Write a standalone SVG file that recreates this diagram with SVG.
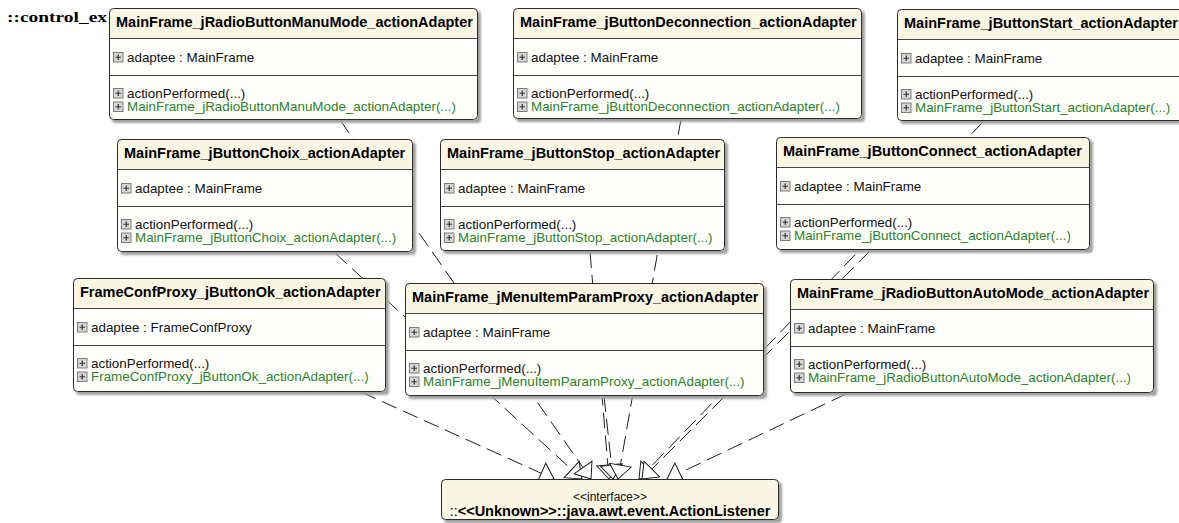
<svg xmlns="http://www.w3.org/2000/svg" xmlns:xlink="http://www.w3.org/1999/xlink" width="1179" height="523" viewBox="0 0 1179 523">
  <style>
    .shd { fill: #a0a0a0; filter: url(#soft); }
    .bg { fill: #fffffb; }
    .hd { fill: #faf6e4; }
    .bd { fill: none; stroke: #2b2b2b; stroke-width: 1; }
    .dv { stroke: #444; stroke-width: 1; }
    .t { font-family: "Liberation Sans", Arial, sans-serif; font-weight: bold; font-size: 14.5px; fill: #000; }
    .m { font-family: "Liberation Sans", Arial, sans-serif; font-size: 13.4px; fill: #111; }
    .g { fill: #2a842a; }
    .pkg { font-family: "Liberation Serif", "Times New Roman", serif; font-weight: bold; font-size: 15.5px; fill: #000; }
    .rl { fill: none; stroke: #1e1e1e; stroke-width: 1; stroke-dasharray: 16 7; marker-end: url(#realize); }
  </style>
  <defs>
    <filter id="soft" x="-5%" y="-5%" width="110%" height="110%">
      <feGaussianBlur stdDeviation="1.2"/>
    </filter>
    <marker id="realize" viewBox="-15 -12 16 24" refX="0" refY="0" markerWidth="16" markerHeight="24" markerUnits="userSpaceOnUse" orient="auto">
      <path d="M0,0 L-14,-11 L-14,11 Z" fill="#fff" stroke="#1e1e1e" stroke-width="1" stroke-dasharray="none"/>
    </marker>
    <g id="plus">
      <rect x="0.5" y="0.5" width="9.5" height="9.5" fill="#d6d6d6" stroke="#7c7c7c"/>
      <path d="M2.5,5.25 H8 M5.25,2.5 V8" stroke="#333" stroke-width="1.2"/>
    </g>
  </defs>

  <rect width="1179" height="523" fill="#fff"/>

  <text class="pkg" x="7" y="22" textLength="100" lengthAdjust="spacingAndGlyphs">::control_ex</text>

  <!-- realization links, drawn under the classes -->
  <g id="connectors">
    <path class="rl" d="M361,392 L554,479"/>
    <path class="rl" d="M335,253 L582,479"/>
    <path class="rl" d="M340,120 L591,479"/>
    <path class="rl" d="M590,252 L609,479"/>
    <path class="rl" d="M604,396 L613,479"/>
    <path class="rl" d="M681,119 L618,479"/>
    <path class="rl" d="M983,122 L639,479"/>
    <path class="rl" d="M870,251 L642,479"/>
    <path class="rl" d="M846,394 L667,479"/>
  </g>

  <g id="n-radioManuMode" transform="translate(109,8)">
    <rect class="shd" x="3" y="3" width="369" height="112" rx="4"/>
    <rect class="bg" width="369" height="112" rx="4"/>
    <path class="hd" d="M0,30 V4 Q0,0 4,0 H365 Q369,0 369,4 V30 Z"/>
    <line class="dv" x1="0" y1="30.5" x2="369" y2="30.5"/>
    <line class="dv" x1="0" y1="67.5" x2="369" y2="67.5"/>
    <text class="t" x="7" y="19">MainFrame_jRadioButtonManuMode_actionAdapter</text>
    <use xlink:href="#plus" x="4" y="44"/>
    <text class="m" x="18" y="53.5">adaptee : MainFrame</text>
    <use xlink:href="#plus" x="4" y="80"/>
    <text class="m" x="18" y="89.5">actionPerformed(...)</text>
    <use xlink:href="#plus" x="4" y="93.5"/>
    <text class="m g" x="18" y="103">MainFrame_jRadioButtonManuMode_actionAdapter(...)</text>
    <rect class="bd" x="0.5" y="0.5" width="368" height="111" rx="4"/>
  </g>

  <g id="n-buttonDeconnection" transform="translate(513,8)">
    <rect class="shd" x="3" y="3" width="349" height="111" rx="4"/>
    <rect class="bg" width="349" height="111" rx="4"/>
    <path class="hd" d="M0,30 V4 Q0,0 4,0 H345 Q349,0 349,4 V30 Z"/>
    <line class="dv" x1="0" y1="30.5" x2="349" y2="30.5"/>
    <line class="dv" x1="0" y1="67.5" x2="349" y2="67.5"/>
    <text class="t" x="7" y="19">MainFrame_jButtonDeconnection_actionAdapter</text>
    <use xlink:href="#plus" x="4" y="44"/>
    <text class="m" x="18" y="53.5">adaptee : MainFrame</text>
    <use xlink:href="#plus" x="4" y="80"/>
    <text class="m" x="18" y="89.5">actionPerformed(...)</text>
    <use xlink:href="#plus" x="4" y="93.5"/>
    <text class="m g" x="18" y="103">MainFrame_jButtonDeconnection_actionAdapter(...)</text>
    <rect class="bd" x="0.5" y="0.5" width="348" height="110" rx="4"/>
  </g>

  <g id="n-buttonStart" transform="translate(897,9)">
    <rect class="shd" x="3" y="3" width="300" height="112" rx="4"/>
    <rect class="bg" width="300" height="112" rx="4"/>
    <path class="hd" d="M0,30 V4 Q0,0 4,0 H296 Q300,0 300,4 V30 Z"/>
    <line class="dv" x1="0" y1="30.5" x2="300" y2="30.5"/>
    <line class="dv" x1="0" y1="67.5" x2="300" y2="67.5"/>
    <text class="t" x="7" y="19">MainFrame_jButtonStart_actionAdapter</text>
    <use xlink:href="#plus" x="4" y="44"/>
    <text class="m" x="18" y="53.5">adaptee : MainFrame</text>
    <use xlink:href="#plus" x="4" y="80"/>
    <text class="m" x="18" y="89.5">actionPerformed(...)</text>
    <use xlink:href="#plus" x="4" y="93.5"/>
    <text class="m g" x="18" y="103">MainFrame_jButtonStart_actionAdapter(...)</text>
    <rect class="bd" x="0.5" y="0.5" width="299" height="111" rx="4"/>
  </g>

  <g id="n-buttonChoix" transform="translate(117,139)">
    <rect class="shd" x="3" y="3" width="296" height="113" rx="4"/>
    <rect class="bg" width="296" height="113" rx="4"/>
    <path class="hd" d="M0,30 V4 Q0,0 4,0 H292 Q296,0 296,4 V30 Z"/>
    <line class="dv" x1="0" y1="30.5" x2="296" y2="30.5"/>
    <line class="dv" x1="0" y1="67.5" x2="296" y2="67.5"/>
    <text class="t" x="7" y="19">MainFrame_jButtonChoix_actionAdapter</text>
    <use xlink:href="#plus" x="4" y="44"/>
    <text class="m" x="18" y="53.5">adaptee : MainFrame</text>
    <use xlink:href="#plus" x="4" y="80"/>
    <text class="m" x="18" y="89.5">actionPerformed(...)</text>
    <use xlink:href="#plus" x="4" y="93.5"/>
    <text class="m g" x="18" y="103">MainFrame_jButtonChoix_actionAdapter(...)</text>
    <rect class="bd" x="0.5" y="0.5" width="295" height="112" rx="4"/>
  </g>

  <g id="n-buttonStop" transform="translate(440,139)">
    <rect class="shd" x="3" y="3" width="285" height="112" rx="4"/>
    <rect class="bg" width="285" height="112" rx="4"/>
    <path class="hd" d="M0,30 V4 Q0,0 4,0 H281 Q285,0 285,4 V30 Z"/>
    <line class="dv" x1="0" y1="30.5" x2="285" y2="30.5"/>
    <line class="dv" x1="0" y1="67.5" x2="285" y2="67.5"/>
    <text class="t" x="7" y="19">MainFrame_jButtonStop_actionAdapter</text>
    <use xlink:href="#plus" x="4" y="44"/>
    <text class="m" x="18" y="53.5">adaptee : MainFrame</text>
    <use xlink:href="#plus" x="4" y="80"/>
    <text class="m" x="18" y="89.5">actionPerformed(...)</text>
    <use xlink:href="#plus" x="4" y="93.5"/>
    <text class="m g" x="18" y="103">MainFrame_jButtonStop_actionAdapter(...)</text>
    <rect class="bd" x="0.5" y="0.5" width="284" height="111" rx="4"/>
  </g>

  <g id="n-buttonConnect" transform="translate(776,137)">
    <rect class="shd" x="3" y="3" width="314" height="113" rx="4"/>
    <rect class="bg" width="314" height="113" rx="4"/>
    <path class="hd" d="M0,30 V4 Q0,0 4,0 H310 Q314,0 314,4 V30 Z"/>
    <line class="dv" x1="0" y1="30.5" x2="314" y2="30.5"/>
    <line class="dv" x1="0" y1="67.5" x2="314" y2="67.5"/>
    <text class="t" x="7" y="19">MainFrame_jButtonConnect_actionAdapter</text>
    <use xlink:href="#plus" x="4" y="44"/>
    <text class="m" x="18" y="53.5">adaptee : MainFrame</text>
    <use xlink:href="#plus" x="4" y="80"/>
    <text class="m" x="18" y="89.5">actionPerformed(...)</text>
    <use xlink:href="#plus" x="4" y="93.5"/>
    <text class="m g" x="18" y="103">MainFrame_jButtonConnect_actionAdapter(...)</text>
    <rect class="bd" x="0.5" y="0.5" width="313" height="112" rx="4"/>
  </g>

  <g id="n-confProxyOk" transform="translate(73,278)">
    <rect class="shd" x="3" y="3" width="313" height="114" rx="4"/>
    <rect class="bg" width="313" height="114" rx="4"/>
    <path class="hd" d="M0,30 V4 Q0,0 4,0 H309 Q313,0 313,4 V30 Z"/>
    <line class="dv" x1="0" y1="30.5" x2="313" y2="30.5"/>
    <line class="dv" x1="0" y1="67.5" x2="313" y2="67.5"/>
    <text class="t" x="7" y="19">FrameConfProxy_jButtonOk_actionAdapter</text>
    <use xlink:href="#plus" x="4" y="44"/>
    <text class="m" x="18" y="53.5">adaptee : FrameConfProxy</text>
    <use xlink:href="#plus" x="4" y="80"/>
    <text class="m" x="18" y="89.5">actionPerformed(...)</text>
    <use xlink:href="#plus" x="4" y="93.5"/>
    <text class="m g" x="18" y="103">FrameConfProxy_jButtonOk_actionAdapter(...)</text>
    <rect class="bd" x="0.5" y="0.5" width="312" height="113" rx="4"/>
  </g>

  <g id="n-menuParamProxy" transform="translate(405,283)">
    <rect class="shd" x="3" y="3" width="359" height="113" rx="4"/>
    <rect class="bg" width="359" height="113" rx="4"/>
    <path class="hd" d="M0,30 V4 Q0,0 4,0 H355 Q359,0 359,4 V30 Z"/>
    <line class="dv" x1="0" y1="30.5" x2="359" y2="30.5"/>
    <line class="dv" x1="0" y1="67.5" x2="359" y2="67.5"/>
    <text class="t" x="7" y="19">MainFrame_jMenuItemParamProxy_actionAdapter</text>
    <use xlink:href="#plus" x="4" y="44"/>
    <text class="m" x="18" y="53.5">adaptee : MainFrame</text>
    <use xlink:href="#plus" x="4" y="80"/>
    <text class="m" x="18" y="89.5">actionPerformed(...)</text>
    <use xlink:href="#plus" x="4" y="93.5"/>
    <text class="m g" x="18" y="103">MainFrame_jMenuItemParamProxy_actionAdapter(...)</text>
    <rect class="bd" x="0.5" y="0.5" width="358" height="112" rx="4"/>
  </g>

  <g id="n-radioAutoMode" transform="translate(790,279)">
    <rect class="shd" x="3" y="3" width="364" height="114" rx="4"/>
    <rect class="bg" width="364" height="114" rx="4"/>
    <path class="hd" d="M0,30 V4 Q0,0 4,0 H360 Q364,0 364,4 V30 Z"/>
    <line class="dv" x1="0" y1="30.5" x2="364" y2="30.5"/>
    <line class="dv" x1="0" y1="67.5" x2="364" y2="67.5"/>
    <text class="t" x="7" y="19">MainFrame_jRadioButtonAutoMode_actionAdapter</text>
    <use xlink:href="#plus" x="4" y="44"/>
    <text class="m" x="18" y="53.5">adaptee : MainFrame</text>
    <use xlink:href="#plus" x="4" y="80"/>
    <text class="m" x="18" y="89.5">actionPerformed(...)</text>
    <use xlink:href="#plus" x="4" y="93.5"/>
    <text class="m g" x="18" y="103">MainFrame_jRadioButtonAutoMode_actionAdapter(...)</text>
    <rect class="bd" x="0.5" y="0.5" width="363" height="113" rx="4"/>
  </g>

  <g id="n-actionListener" transform="translate(441,479)">
    <rect class="shd" x="3" y="3" width="338" height="41" rx="4"/>
    <rect class="hd" width="338" height="41" rx="4"/>
    <text class="m" x="169" y="22" text-anchor="middle" style="font-size:12px">&lt;&lt;interface&gt;&gt;</text>
    <text class="t" x="169" y="37" text-anchor="middle"><tspan style="font-weight:normal">::</tspan>&lt;&lt;Unknown&gt;&gt;::java.awt.event.ActionListener</text>
    <rect class="bd" x="0.5" y="0.5" width="337" height="40" rx="4"/>
  </g>
</svg>
